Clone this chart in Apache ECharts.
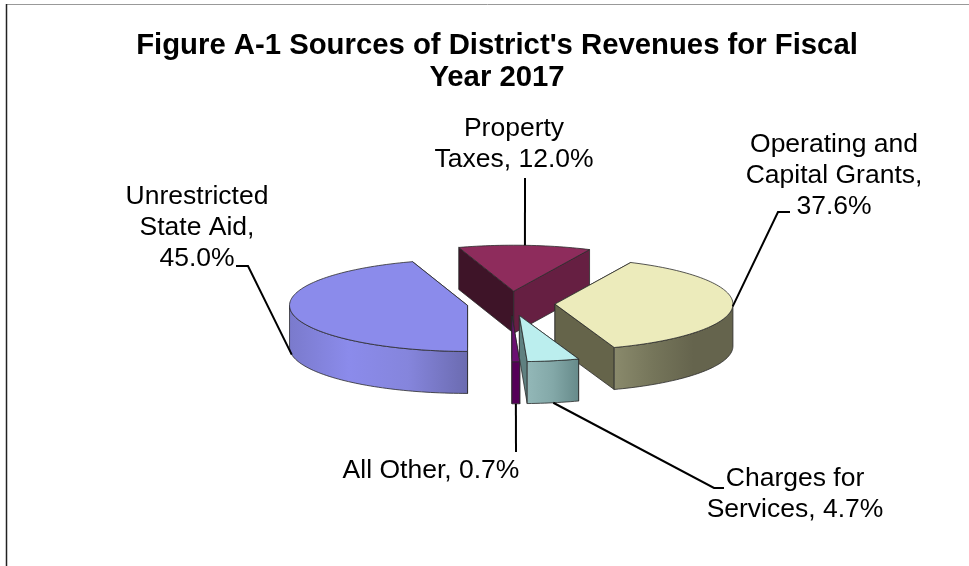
<!DOCTYPE html>
<html>
<head>
<meta charset="utf-8">
<style>html,body{margin:0;padding:0;background:#fff}#chart{width:969px;height:566px}</style>
<script src="https://cdn.jsdelivr.net/npm/echarts@6/dist/echarts.min.js"></script>
</head>
<body>
<div id="chart"></div>
<script>
// ---- data ----
const categories = ['Property Taxes', 'Operating and Capital Grants', 'Charges for Services', 'All Other', 'Unrestricted State Aid'];
const percentValues = [12.0, 37.6, 4.7, 0.7, 45.0];
const titleText = "Figure A-1 Sources of District's Revenues for Fiscal\nYear 2017";
const labelLines = [
  ['Property', 'Taxes, 12.0%'],
  ['Operating and', 'Capital Grants,', '37.6%'],
  ['Charges for', 'Services, 4.7%'],
  ['All Other, 0.7%'],
  ['Unrestricted', 'State Aid,', '45.0%']
];
// ---- geometry / style ----
const startAngle = -18;
const center = [511, 303.5];
const rx = 178, ry = 46, depth = 42, explode = 44, explodeYRatio = 0.28;
const drawOrder = [4, 0, 1, 3, 2];
const topColors = ['#8e2c5c', '#ecebbb', '#bbeeee', '#6b0f72', '#8b8beb'];
const cutColors = ['#3e1428', '#65644a', '#5f8080', '#550058', '#6b6bb0'];
const rightCutColors = ['#661f42', '#65644a', '#5f8080', '#550058', '#6b6bb0'];
const wallStops = [
  ['#661f42', '#661f42'],
  ['#8a8a6c', '#75755a', '#65644d', '#65644d'],
  ['#93b8b8', '#83a8a8', '#668a8a'],
  ['#550058', '#550058'],
  ['#7a7acc', '#8b8beb', '#8585dc', '#6b6bb0']
];
const labelCenters = [[514, 129], [834, 145], [795, 479], [431, 471], [197, 197]];
const lineGap = 31;
const leaderElbows = [
  [[525, 178]],
  [[778, 212], [790, 212]],
  [[714, 488], [724, 488]],
  [[516, 452]],
  [[248, 266], [236, 266]]
];
const leaderOnBase = [0, 0, 1, 1, 1];
const edge = '#2b2b2b';

const total = percentValues.reduce((a, b) => a + b, 0);
const spans = [];
percentValues.reduce((acc, v) => { const e = acc + v / total * 360; spans.push([acc, e]); return e; }, startAngle);

function renderItem(params, api) {
  const i = api.value(1);
  const [a0, a1] = spans[i];
  const mid = (a0 + a1) / 2 * Math.PI / 180;
  const cx = center[0] + explode * Math.sin(mid);
  const cy = center[1] - explode * explodeYRatio * Math.cos(mid);
  const rim = d => { const r = d * Math.PI / 180; return [cx + rx * Math.sin(r), cy - ry * Math.cos(r)]; };
  const down = p => [p[0], p[1] + depth];
  const arc = (s, e) => {
    const n = Math.max(2, Math.ceil((e - s) / 1.5)), out = [];
    for (let k = 0; k <= n; k++) out.push(rim(s + (e - s) * k / n));
    return out;
  };
  const poly = (pts, fill) => ({
    type: 'polygon', shape: { points: pts },
    style: { fill: fill, stroke: edge, lineWidth: 0.8, lineJoin: 'round' }
  });
  const children = [];
  // cut faces, farther one first
  const apex = [cx, cy];
  const cuts = [[a0, cutColors[i]], [a1, rightCutColors[i]]];
  cuts.sort((p, q) => rim(p[0])[1] - rim(q[0])[1]);
  cuts.forEach(c => {
    const p = rim(c[0]);
    children.push(poly([apex, p, down(p), down(apex)], c[1]));
  });
  // outer wall: the part of the rim that faces the viewer
  const s = Math.max(a0, 90), e = Math.min(a1, 270);
  if (e > s) {
    const top = arc(s, e);
    const bottom = top.map(down).reverse();
    const stops = wallStops[i];
    const grad = new echarts.graphic.LinearGradient(0, 0, 1, 0,
      stops.map((c, k) => ({ offset: k / (stops.length - 1), color: c })));
    children.push(poly(top.concat(bottom), grad));
  }
  // top face
  children.push(poly([apex].concat(arc(a0, a1)), topColors[i]));
  // leader line
  const midDeg = (a0 + a1) / 2;
  let start = rim(midDeg);
  if (leaderOnBase[i]) start = down(start);
  children.push({
    type: 'polyline', shape: { points: [start].concat(leaderElbows[i]) },
    style: { stroke: '#000', lineWidth: 2, fill: null }
  });
  return { type: 'group', children: children };
}

const labelGraphics = [];
labelLines.forEach((lines, i) => lines.forEach((t, k) => {
  labelGraphics.push({
    type: 'text', x: labelCenters[i][0], y: labelCenters[i][1] + k * lineGap,
    style: { text: t, fill: '#000', font: '26.5px "Liberation Sans", Arial, sans-serif', textAlign: 'center', textVerticalAlign: 'middle' }
  });
}));

const chart = echarts.init(document.getElementById('chart'), null, { renderer: 'canvas' });
chart.setOption({
  animation: false,
  backgroundColor: '#fff',
  title: {
    text: titleText, left: 492, top: 25, textAlign: 'center',
    textStyle: { fontFamily: '"Liberation Sans", Arial, sans-serif', fontWeight: 'bold', fontSize: 29.3, lineHeight: 32, color: '#000' }
  },
  series: [{
    type: 'custom', coordinateSystem: 'none', renderItem: renderItem, silent: true,
    data: drawOrder.map(i => [percentValues[i], i, categories[i]])
  }],
  graphic: [
    { type: 'line', shape: { x1: 6, y1: 4.5, x2: 969, y2: 4.5 }, style: { stroke: '#999', lineWidth: 1 } },
    { type: 'line', shape: { x1: 6.5, y1: 4, x2: 6.5, y2: 566 }, style: { stroke: '#222', lineWidth: 1.5 } }
  ].concat(labelGraphics)
});
</script>
</body>
</html>
